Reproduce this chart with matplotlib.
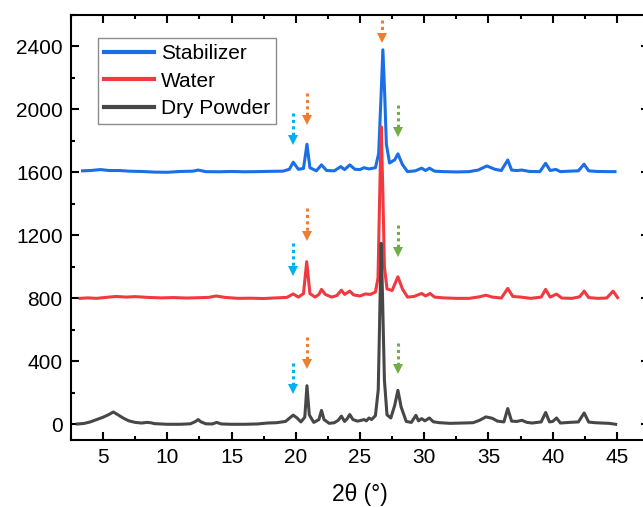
import numpy as np
import matplotlib.pyplot as plt
from matplotlib.ticker import MultipleLocator

plt.rcParams['font.family'] = ['Liberation Sans', 'DejaVu Sans']

# Stabilizer (offset ~1600)
stab_x = [3.4, 4.0, 4.8, 5.5, 6.3, 7.0, 8.0, 9.0, 10.0, 11.0, 12.0, 12.4, 13.0, 14.0, 15.0,
          16.0, 17.0, 18.0, 19.0, 19.5, 19.8, 20.2, 20.6, 20.87, 21.1, 21.6, 22.0, 22.4, 23.0,
          23.5, 23.8, 24.2, 24.6, 25.0, 25.3, 25.7, 26.2, 26.45, 26.62, 26.78, 26.92, 27.05,
          27.3, 27.7, 27.95, 28.3, 28.7, 29.3, 29.8, 30.1, 30.4, 30.8, 31.5, 32.5, 33.5, 34.2,
          34.87, 35.5, 36.0, 36.5, 36.8, 37.2, 37.6, 38.2, 39.0, 39.45, 39.8, 40.25, 40.6,
          41.3, 42.0, 42.44, 42.8, 43.5, 44.3, 44.85]
stab_y = [1610, 1612, 1618, 1612, 1612, 1608, 1606, 1602, 1601, 1606, 1608, 1615, 1605, 1604, 1606,
          1604, 1605, 1607, 1608, 1620, 1665, 1620, 1625, 1779, 1630, 1610, 1648, 1612, 1610,
          1637, 1618, 1648, 1620, 1618, 1630, 1622, 1630, 1720, 2050, 2379, 2100, 1780,
          1660, 1680, 1718, 1650, 1605, 1610, 1627, 1612, 1627, 1608, 1605, 1603, 1605, 1615,
          1641, 1620, 1612, 1679, 1615, 1612, 1615, 1606, 1605, 1658, 1612, 1619, 1605,
          1608, 1610, 1652, 1610, 1606, 1605, 1605]

# Water (offset ~800)
water_x = [3.2, 3.8, 4.5, 5.2, 6.0, 6.8, 7.5, 8.5, 9.5, 10.5, 11.5, 12.4, 13.2, 13.8, 14.5,
           15.5, 16.5, 17.5, 18.5, 19.3, 19.8, 20.2, 20.6, 20.85, 21.1, 21.5, 21.8, 22.0, 22.3,
           22.8, 23.2, 23.55, 23.8, 24.2, 24.5, 25.0, 25.4, 25.8, 26.2, 26.4, 26.53, 26.65,
           26.77, 26.9, 27.1, 27.5, 27.95, 28.3, 28.7, 29.2, 29.8, 30.1, 30.45, 30.8, 31.5,
           32.5, 33.5, 34.3, 34.8, 35.3, 36.0, 36.5, 36.9, 37.5, 38.3, 39.1, 39.45, 39.8, 40.3,
           40.7, 41.5, 42.1, 42.45, 42.8, 43.5, 44.2, 44.7, 45.05]
water_y = [800, 803, 800, 806, 812, 808, 811, 806, 803, 805, 802, 804, 806, 815, 806,
           800, 801, 799, 803, 806, 828, 808, 830, 1033, 830, 808, 825, 857, 825,
           808, 818, 852, 825, 846, 822, 815, 828, 825, 840, 930, 1450, 1890,
           1500, 1000, 860, 850, 937, 860, 808, 812, 831, 815, 831, 808, 803,
           800, 800, 810, 820, 808, 802, 863, 812, 808, 800, 808, 857, 808, 827,
           802, 800, 810, 846, 805, 800, 802, 846, 805]

# Dry Powder (offset 0)
dry_x = [3.0, 3.5, 4.0, 4.5, 5.0, 5.4, 5.8, 6.2, 6.6, 7.0, 7.5, 8.0, 8.4, 8.7, 9.0, 9.5,
         10.0, 11.0, 11.8, 12.2, 12.4, 12.6, 13.0, 13.5, 13.85, 14.2, 15.0, 16.0, 17.0, 17.8,
         18.5, 19.2, 19.6, 19.8, 20.1, 20.4, 20.7, 20.87, 21.05, 21.4, 21.8, 22.0, 22.2, 22.6,
         23.0, 23.3, 23.55, 23.8, 24.0, 24.2, 24.45, 24.8, 25.1, 25.3, 25.5, 25.7, 25.9, 26.2,
         26.42, 26.55, 26.65, 26.76, 26.9, 27.1, 27.4, 27.7, 27.95, 28.2, 28.6, 29.0, 29.35,
         29.55, 29.8, 30.05, 30.4, 30.7, 31.2, 32.0, 33.0, 33.8, 34.3, 34.8, 35.3, 35.7, 36.2,
         36.5, 36.8, 37.2, 37.6, 38.0, 38.4, 39.1, 39.45, 39.75, 40.0, 40.3, 40.6, 41.3, 42.0,
         42.45, 42.8, 43.3, 43.8, 44.4, 44.9]
dry_y = [2, 5, 15, 30, 45, 60, 78, 58, 38, 22, 12, 8, 12, 10, 4, 2,
         0, 0, 3, 18, 30, 16, 3, 2, 12, 2, 0, 0, 2, 8,
         10, 18, 45, 58, 40, 15, 45, 245, 60, 12, 30, 88, 30, 6,
         10, 25, 52, 18, 35, 62, 30, 20, 25, 30, 22, 40, 30, 55,
         220, 750, 1150, 780, 280, 60, 40, 120, 216, 110, 18, 12, 57,
         22, 36, 22, 40, 16, 10, 6, 8, 10, 25, 47, 38, 20, 15,
         100, 20, 18, 25, 12, 8, 15, 75, 15, 18, 40, 8, 12, 15,
         72, 14, 10, 8, 6, 0]

# marker arrows: x position, shaft top, tip
arrow_x = [19.8, 20.87, 26.75, 27.95,
           19.8, 20.87, 27.95,
           19.8, 20.87, 27.95]
arrow_top = [1978, 2106, 2570, 2029,
             1151, 1374, 1266,
             388, 553, 515]
arrow_tip = [1775, 1902, 2424, 1826,
             948, 1170, 1069,
             197, 356, 324]
arrow_col = ['#00b0f0', '#ed7d31', '#ed7d31', '#70ad47',
             '#00b0f0', '#ed7d31', '#70ad47',
             '#00b0f0', '#ed7d31', '#70ad47']

fig = plt.figure(figsize=(6.43, 5.07), dpi=100)
ax = fig.add_axes([0.1104, 0.1321, 0.899, 0.8383])

ax.plot(stab_x, stab_y, color='#1a6ee6', lw=2.2, label='Stabilizer')
ax.plot(water_x, water_y, color='#f2393f', lw=2.2, label='Water')
ax.plot(dry_x, dry_y, color='#474747', lw=2.2, label='Dry Powder')

head = 57  # head height in data units
for x, top, tip, c in zip(arrow_x, arrow_top, arrow_tip, arrow_col):
    ax.plot([x, x], [top, tip + head], color=c, lw=2.2, dashes=(1, 1.1),
            solid_capstyle='butt', dash_capstyle='butt', clip_on=False)
    ax.plot([x], [tip + head / 2], marker='v', markersize=7, color=c,
            markeredgewidth=0, clip_on=False)

ax.set_xlim(2.5, 47.5)
ax.set_ylim(-100, 2600)
ax.xaxis.set_major_locator(MultipleLocator(5))
ax.xaxis.set_minor_locator(MultipleLocator(2.5))
ax.yaxis.set_major_locator(MultipleLocator(400))
ax.yaxis.set_minor_locator(MultipleLocator(200))
ax.tick_params(which='both', direction='in', top=True, right=True, width=1.5,
               labelsize=15)
ax.tick_params(which='major', length=5.5)
ax.tick_params(which='minor', length=3)
ax.tick_params(axis='x', pad=6)
ax.tick_params(axis='y', pad=6)
for s in ax.spines.values():
    s.set_linewidth(1.5)

ax.set_xlabel('2θ (°)', fontsize=16.5, labelpad=11)

leg = ax.legend(loc='upper left', bbox_to_anchor=(0.047, 0.946), borderaxespad=0,
                fontsize=15, handlelength=2.4, handletextpad=0.3, borderpad=0.3,
                labelspacing=0.4, fancybox=False, framealpha=1)
leg.get_frame().set_edgecolor('#8c8c8c')
leg.get_frame().set_linewidth(1.0)
for line in leg.get_lines():
    line.set_linewidth(3)

fig.savefig('out.png', dpi=100)
